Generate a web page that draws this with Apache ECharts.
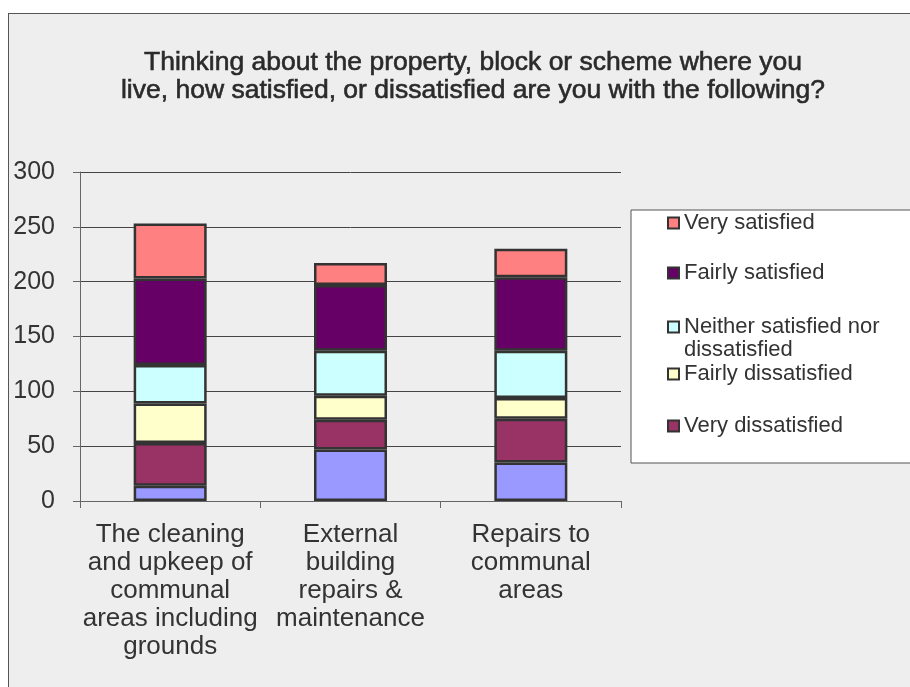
<!DOCTYPE html>
<html>
<head>
<meta charset="utf-8">
<script src="https://cdn.jsdelivr.net/npm/echarts@6/dist/echarts.min.js"></script>
<style>
  html, body { margin: 0; padding: 0; background: #ffffff; overflow: hidden; }
  #wrap { position: relative; width: 910px; height: 687px; overflow: hidden; background: #ffffff; }
  #panel { position: absolute; left: 8px; top: 13px; width: 960px; height: 720px; background: #eeeeee; border: 1px solid #555555; box-sizing: border-box; }
  #chart { position: absolute; left: 0; top: 0; width: 946px; height: 687px; }
</style>
</head>
<body>
<div id="wrap">
  <div id="panel"></div>
  <div id="chart"></div>
</div>
<script>
// ---- data ----
const titleText = 'Thinking about the property, block or scheme where you\nlive, how satisfied, or dissatisfied are you with the following?';
const categories = [
  'The cleaning\nand upkeep of\ncommunal\nareas including\ngrounds',
  'External\nbuilding\nrepairs &\nmaintenance',
  'Repairs to\ncommunal\nareas'
];
const yTicks = [0, 50, 100, 150, 200, 250, 300];
const noReply = [14, 47, 35];
const veryDissatisfied = [39, 27, 40];
const fairlyDissatisfied = [36, 22, 19];
const neither = [35, 41, 43];
const fairlySatisfied = [79, 60, 67];
const verySatisfied = [50, 20, 26];

const names = {
  noReply: 'No reply',
  veryDiss: 'Very dissatisfied',
  fairlyDiss: 'Fairly dissatisfied',
  neither: 'Neither satisfied nor dissatisfied',
  fairlySat: 'Fairly satisfied',
  verySat: 'Very satisfied'
};
const colors = {
  noReply: '#9999FF',
  veryDiss: '#993366',
  fairlyDiss: '#FFFFCC',
  neither: '#CCFFFF',
  fairlySat: '#660066',
  verySat: '#FF8080'
};

const chart = echarts.init(document.getElementById('chart'), null, { renderer: 'canvas' });

function barSeries(key, data) {
  return {
    name: names[key],
    type: 'bar',
    stack: 'total',
    barWidth: 73,
    data: data,
    itemStyle: { color: colors[key], borderColor: '#333333', borderWidth: 2.5 },
    emphasis: { disabled: true }
  };
}

const legendText = { fontFamily: 'Liberation Sans, Arial, sans-serif', fontSize: 22, lineHeight: 23, color: '#333333' };
function legendFor(name, centerY, lines) {
  return {
    data: [{ name: name, icon: 'rect' }],
    orient: 'vertical',
    left: 667,
    top: centerY - (lines * 23) / 2,
    padding: 0,
    itemWidth: 11,
    itemHeight: 11,
    selectedMode: false,
    textStyle: legendText,
    formatter: function (n) {
      if (n === names.neither) return '\nNeither satisfied nor\ndissatisfied';
      return n;
    }
  };
}

const option = {
  backgroundColor: 'transparent',
  animation: false,
  title: {
    text: titleText,
    left: 'center',
    top: 49,
    padding: 0,
    textStyle: {
      fontFamily: 'Liberation Sans, Arial, sans-serif',
      fontSize: 26.5,
      fontWeight: 'normal',
      lineHeight: 27.5,
      color: '#2a2a2a',
      textBorderColor: '#2a2a2a',
      textBorderWidth: 0.6
    }
  },
  graphic: [{
    type: 'rect',
    z: 1,
    shape: { x: 631, y: 210, width: 400, height: 253 },
    style: { fill: '#ffffff', stroke: '#555555', lineWidth: 1 }
  }],
  legend: [
    legendFor(names.verySat, 223, 1),
    legendFor(names.fairlySat, 273, 1),
    legendFor(names.neither, 327, 3),
    legendFor(names.fairlyDiss, 374, 1),
    legendFor(names.veryDiss, 426, 1)
  ],
  grid: { left: 80, top: 172, right: 325, bottom: 186, containLabel: false },
  xAxis: {
    type: 'category',
    data: categories,
    axisLine: { lineStyle: { color: '#666666', width: 1 } },
    axisTick: { show: true, length: 7, lineStyle: { color: '#666666' } },
    axisLabel: {
      interval: 0,
      margin: 20,
      fontFamily: 'Liberation Sans, Arial, sans-serif',
      fontSize: 26,
      lineHeight: 28,
      color: '#333333',
      align: 'center'
    }
  },
  yAxis: {
    type: 'value',
    min: yTicks[0],
    max: yTicks[yTicks.length - 1],
    interval: yTicks[1] - yTicks[0],
    axisLine: { show: true, lineStyle: { color: '#666666', width: 1 } },
    axisTick: { show: true, length: 7, lineStyle: { color: '#666666' } },
    splitLine: { show: true, lineStyle: { color: '#444444', width: 1 } },
    axisLabel: {
      margin: 25,
      fontFamily: 'Liberation Sans, Arial, sans-serif',
      fontSize: 25,
      color: '#333333'
    }
  },
  series: [
    barSeries('noReply', noReply),
    barSeries('veryDiss', veryDissatisfied),
    barSeries('fairlyDiss', fairlyDissatisfied),
    barSeries('neither', neither),
    barSeries('fairlySat', fairlySatisfied),
    barSeries('verySat', verySatisfied)
  ]
};
chart.setOption(option);
</script>
</body>
</html>
